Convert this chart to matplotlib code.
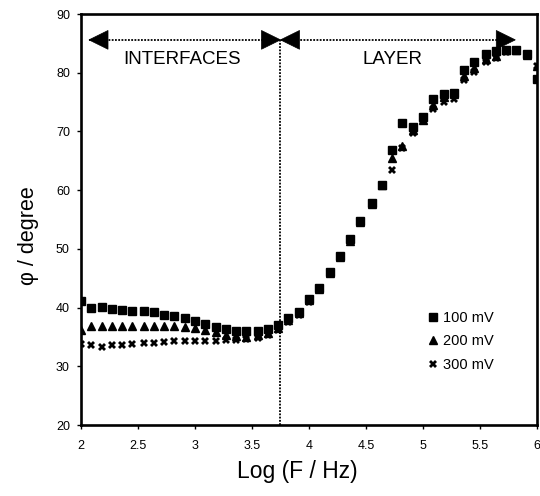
import matplotlib
matplotlib.use("Agg")
import matplotlib.pyplot as plt
from matplotlib.patches import Polygon

plt.rcParams['font.family'] = ['Liberation Sans', 'DejaVu Sans']

# log frequency (11 points per decade)
log_f = [2.00, 2.09, 2.18, 2.27, 2.36, 2.45, 2.55, 2.64, 2.73, 2.82, 2.91,
         3.00, 3.09, 3.18, 3.27, 3.36, 3.45, 3.55, 3.64, 3.73, 3.82, 3.91,
         4.00, 4.09, 4.18, 4.27, 4.36, 4.45, 4.55, 4.64, 4.73, 4.82, 4.91,
         5.00, 5.09, 5.18, 5.27, 5.36, 5.45, 5.55, 5.64, 5.73, 5.82, 5.91, 6.00]

phi_100 = [41.1, 40.0, 40.05, 39.7, 39.65, 39.5, 39.5, 39.3, 38.7, 38.6, 38.3,
           37.8, 37.2, 36.7, 36.35, 36.0, 36.0, 36.0, 36.35, 37.0, 38.2, 39.3,
           41.5, 43.4, 46.1, 48.8, 51.6, 54.8, 57.8, 60.9, 66.8, 71.4, 70.7,
           72.4, 75.6, 76.3, 76.5, 80.5, 81.8, 83.2, 83.75, 83.9, 83.9, 83.2, 79.0]

phi_200 = [36.2, 36.8, 36.8, 36.8, 36.9, 36.9, 36.8, 36.9, 36.9, 36.9, 36.7,
           36.5, 36.2, 35.8, 35.4, 35.1, 35.0, 35.3, 35.7, 36.5, 37.9, 39.0,
           41.3, 43.2, 45.9, 48.6, 51.4, 54.6, 57.7, 60.8, 65.4, 67.6, 70.3,
           72.0, 74.5, 75.8, 76.3, 79.5, 80.8, 82.3, 82.8, 83.8, 83.8, 83.0, 81.2]

phi_300 = [33.75, 33.6, 33.35, 33.6, 33.6, 33.75, 34.0, 34.0, 34.2, 34.3, 34.35,
           34.3, 34.3, 34.35, 34.5, 34.5, 34.6, 34.9, 35.3, 36.2, 37.5, 38.8,
           41.0, 43.0, 45.7, 48.5, 51.3, 54.5, 57.6, 60.7, 63.4, 67.1, 69.7,
           71.7, 73.9, 75.1, 75.6, 78.8, 80.2, 81.9, 82.5, 83.6, 83.7, 83.0, 81.2]

series_labels = ['100 mV', '200 mV', '300 mV']
x_ticks = [2, 2.5, 3, 3.5, 4, 4.5, 5, 5.5, 6]
x_tick_labels = ['2', '2.5', '3', '3.5', '4', '4.5', '5', '5.5', '6']
y_ticks = [20, 30, 40, 50, 60, 70, 80, 90]

boundary = 3.75
arrow_y = 85.6
arrow_left = 2.07
arrow_right = 5.81

fig = plt.figure(figsize=(5.40, 4.96), dpi=100)
ax = fig.add_axes([0.15, 0.1431, 0.8444, 0.8286])

ax.plot(log_f, phi_100, linestyle='none', marker='s', markersize=5.4,
        color='black', label=series_labels[0])
ax.plot(log_f, phi_200, linestyle='none', marker='^', markersize=6.0,
        color='black', label=series_labels[1])
ax.plot(log_f, phi_300, linestyle='none', marker='X', markersize=6.2,
        color='black', markeredgewidth=0, label=series_labels[2])

ax.set_xlim(2, 6)
ax.set_ylim(20, 90)
ax.set_xticks(x_ticks)
ax.set_xticklabels(x_tick_labels)
ax.set_yticks(y_ticks)
ax.tick_params(direction='out', length=3, width=1, labelsize=9, colors='black')
ax.tick_params(axis='x', pad=8)
ax.tick_params(axis='y', pad=5)
for s in ax.spines.values():
    s.set_linewidth(1.9)
    s.set_color('black')

# boundary line and region arrows
ax.plot([boundary, boundary], [20, arrow_y], color='black', linewidth=1.3,
        linestyle=(0, (1, 0.8)))
ax.plot([arrow_left, arrow_right], [arrow_y, arrow_y], color='black',
        linewidth=1.3, linestyle=(0, (1, 0.8)))
hl = 0.167
hw = 1.6
heads = [
    [(arrow_left, arrow_y), (arrow_left + hl, arrow_y + hw), (arrow_left + hl, arrow_y - hw)],
    [(boundary, arrow_y), (boundary - hl, arrow_y + hw), (boundary - hl, arrow_y - hw)],
    [(boundary, arrow_y), (boundary + hl, arrow_y + hw), (boundary + hl, arrow_y - hw)],
    [(arrow_right, arrow_y), (arrow_right - hl, arrow_y + hw), (arrow_right - hl, arrow_y - hw)],
]
for h in heads:
    ax.add_patch(Polygon(h, closed=True, facecolor='black', edgecolor='black',
                         linewidth=0.5, clip_on=False))

ax.text(2.89, 82.3, 'INTERFACES', ha='center', va='center', fontsize=13.5)
ax.text(4.73, 82.3, 'LAYER', ha='center', va='center', fontsize=13.5)

ax.set_xlabel('Log (F / Hz)', fontsize=16.5)
ax.xaxis.set_label_coords(0.474, -0.114)
ax.xaxis.label.set_va('center')
ax.set_ylabel('φ / degree', fontsize=15.5)
ax.yaxis.set_label_coords(-0.116, 0.462)
ax.yaxis.label.set_va('center')

leg = ax.legend(loc='upper left', bbox_to_anchor=(0.761, 0.278), frameon=False,
                fontsize=10.5, handlelength=0.7, handletextpad=0.35,
                borderpad=0, borderaxespad=0, labelspacing=0.66)

fig.savefig('out.png', dpi=100)
